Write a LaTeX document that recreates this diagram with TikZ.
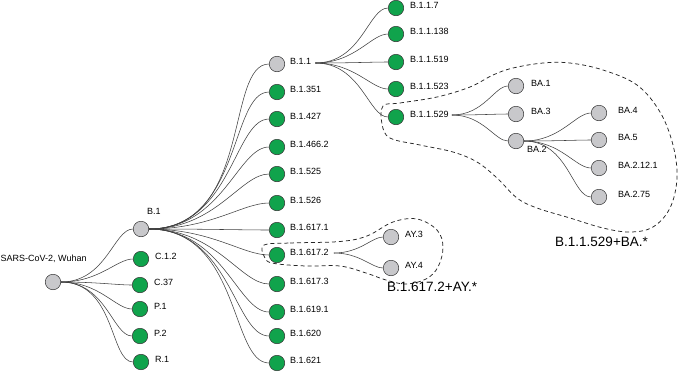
\documentclass[tikz,border=0pt]{standalone}
\usepackage{fontspec}
\setmainfont{Liberation Sans}
\definecolor{vgreen}{RGB}{16,163,76}
\definecolor{vgrey}{RGB}{200,200,203}
\tikzset{
    strain/.style={circle, draw=black!80, line width=0.5pt, minimum size=15.5pt, inner sep=0pt},
    voc/.style={strain, fill=vgreen},
    anc/.style={strain, fill=vgrey},
    tag/.style={anchor=west, inner sep=0pt, font=\fontsize{9}{10}\selectfont, text height=6.4pt, text depth=0pt},
    clade/.style={anchor=west, inner sep=0pt, font=\fontsize{13.5}{15}\selectfont, text height=9.8pt, text depth=0pt},
    branch/.style={draw=black!75, line width=0.55pt},
    hull/.style={draw=black!85, line width=0.75pt, dash pattern=on 4pt off 3pt},
}
\begin{document}
\begin{tikzpicture}[x=1pt, y=-1pt]
    \useasboundingbox (0,0) rectangle (680,373);
    % root and first split
    \node[anc] (wuhan) at (53,282) {};
    \node[tag] (l-wuhan) at (0.5,258) {SARS-CoV-2, Wuhan};
    \node[anc] (b1) at (141,229) {};
    \node[tag] (l-b1) at (147,211) {B.1};
    \node[voc] (c12) at (141,259) {};
    \node[voc] (c37) at (140,285) {};
    \node[voc] (p1) at (140,309) {};
    \node[voc] (p2) at (140,336) {};
    \node[voc] (r1) at (141,362) {};
    \node[tag] at (155,256.5) {C.1.2};
    \node[tag] at (154,282.5) {C.37};
    \node[tag] at (154,306.5) {P.1};
    \node[tag] at (154,333.5) {P.2};
    \node[tag] at (155,359.5) {R.1};
    % B.1 descendants
    \node[anc] (b11) at (277,64) {};
    \node[voc] (b1351) at (277,92) {};
    \node[voc] (b1427) at (277,119) {};
    \node[voc] (b14662) at (277,147) {};
    \node[voc] (b1525) at (277,174) {};
    \node[voc] (b1526) at (277,203) {};
    \node[voc] (b16171) at (277,230) {};
    \node[voc] (b16172) at (277,255) {};
    \node[voc] (b16173) at (277,284) {};
    \node[voc] (b16191) at (277,312) {};
    \node[voc] (b1620) at (277,336) {};
    \node[voc] (b1621) at (277,363) {};
    \node[tag] (l-b11) at (290,61.5) {B.1.1};
    \node[tag] at (290,89.5) {B.1.351};
    \node[tag] at (290,116.5) {B.1.427};
    \node[tag] at (290,144.5) {B.1.466.2};
    \node[tag] at (290,171.5) {B.1.525};
    \node[tag] at (290,200.5) {B.1.526};
    \node[tag] at (290,227.5) {B.1.617.1};
    \node[tag] (l-b16172) at (290,252.5) {B.1.617.2};
    \node[tag] at (290,281.5) {B.1.617.3};
    \node[tag] at (290,309.5) {B.1.619.1};
    \node[tag] at (290,333.5) {B.1.620};
    \node[tag] at (290,360.5) {B.1.621};
    % B.1.1 descendants
    \node[voc] (b117) at (396,8) {};
    \node[voc] (b11138) at (396,34) {};
    \node[voc] (b11519) at (396,62) {};
    \node[voc] (b11523) at (396,89) {};
    \node[voc] (b11529) at (396,117) {};
    \node[tag] at (410,5.5) {B.1.1.7};
    \node[tag] at (410,31.5) {B.1.1.138};
    \node[tag] at (410,59.5) {B.1.1.519};
    \node[tag] at (410,86.5) {B.1.1.523};
    \node[tag] (l-b11529) at (410,114.5) {B.1.1.529};
    % Delta sublineages
    \node[anc] (ay3) at (391,237) {};
    \node[anc] (ay4) at (391,268) {};
    \node[tag] at (405,234.5) {AY.3};
    \node[tag] at (405,265.5) {AY.4};
    % Omicron sublineages
    \node[anc] (ba1) at (516,86) {};
    \node[anc] (ba3) at (516,114) {};
    \node[anc] (ba2) at (516,141) {};
    \node[tag] at (531,83.5) {BA.1};
    \node[tag] at (531,111.5) {BA.3};
    \node[tag] at (527,149) {BA.2};
    \node[anc] (ba4) at (599,113) {};
    \node[anc] (ba5) at (599,140) {};
    \node[anc] (ba2121) at (599,168) {};
    \node[anc] (ba275) at (599,197) {};
    \node[tag] at (618,110.5) {BA.4};
    \node[tag] at (618,137.5) {BA.5};
    \node[tag] at (618,165.5) {BA.2.12.1};
    \node[tag] at (618,194.5) {BA.2.75};
    % branching points behind labels
    \coordinate (h-b11) at ([shift={(4pt,-1.5pt)}]l-b11.east);
    \coordinate (h-b16172) at ([shift={(5pt,-0.5pt)}]l-b16172.east);
    \coordinate (h-b11529) at ([shift={(3pt,-0.5pt)}]l-b11529.east);
    % branches
    \foreach \kid in {b1,c12,c37,p1,p2,r1}
        \draw[branch] (wuhan.east) to[out=0, in=180, out looseness=1.3, in looseness=0.55] (\kid.west);
    \foreach \kid in {b11,b1351,b1427,b14662,b1525,b1526,b16171,b16172,b16173,b16191,b1620,b1621}
        \draw[branch] (b1.east) to[out=0, in=180, out looseness=1.3, in looseness=0.55] (\kid.west);
    \foreach \kid in {b117,b11138,b11519,b11523,b11529}
        \draw[branch] (h-b11) to[out=0, in=180, out looseness=1.3, in looseness=0.55] (\kid.west);
    \foreach \kid in {ay3,ay4}
        \draw[branch] (h-b16172) to[out=0, in=180, out looseness=1.3, in looseness=0.55] (\kid.west);
    \foreach \kid in {ba1,ba3,ba2}
        \draw[branch] (h-b11529) to[out=0, in=180, out looseness=1.3, in looseness=0.55] (\kid.west);
    \foreach \kid in {ba4,ba5,ba2121,ba275}
        \draw[branch] (ba2.east) to[out=0, in=180, out looseness=1.3, in looseness=0.55] (\kid.west);
    % clade outlines
    \draw[hull] plot[smooth cycle, tension=0.6] coordinates {(264,245) (290,243) (340,241.5) (367,236) (393,222) (417,219) (437,230) (443,247) (438,267) (426,279) (406,284) (386,280) (366,273) (340,266) (306,266) (272,263) (264,256)};
    \draw[hull] plot[smooth cycle, tension=0.6] coordinates {(383,106) (400,103) (437,97) (470,87) (493,75) (513,68) (543,63) (570,63) (603,70) (637,85) (660,112) (673,145) (677,178) (670,208) (653,227) (630,232) (603,228) (570,218) (537,208) (517,198) (497,178) (477,162) (453,152) (420,145) (390,138) (382,124)};
    \node[clade] (k-delta) at (387,287) {B.1.617.2+AY.*};
    \node[clade] (k-omicron) at (555,242) {B.1.1.529+BA.*};
\end{tikzpicture}
\end{document}
